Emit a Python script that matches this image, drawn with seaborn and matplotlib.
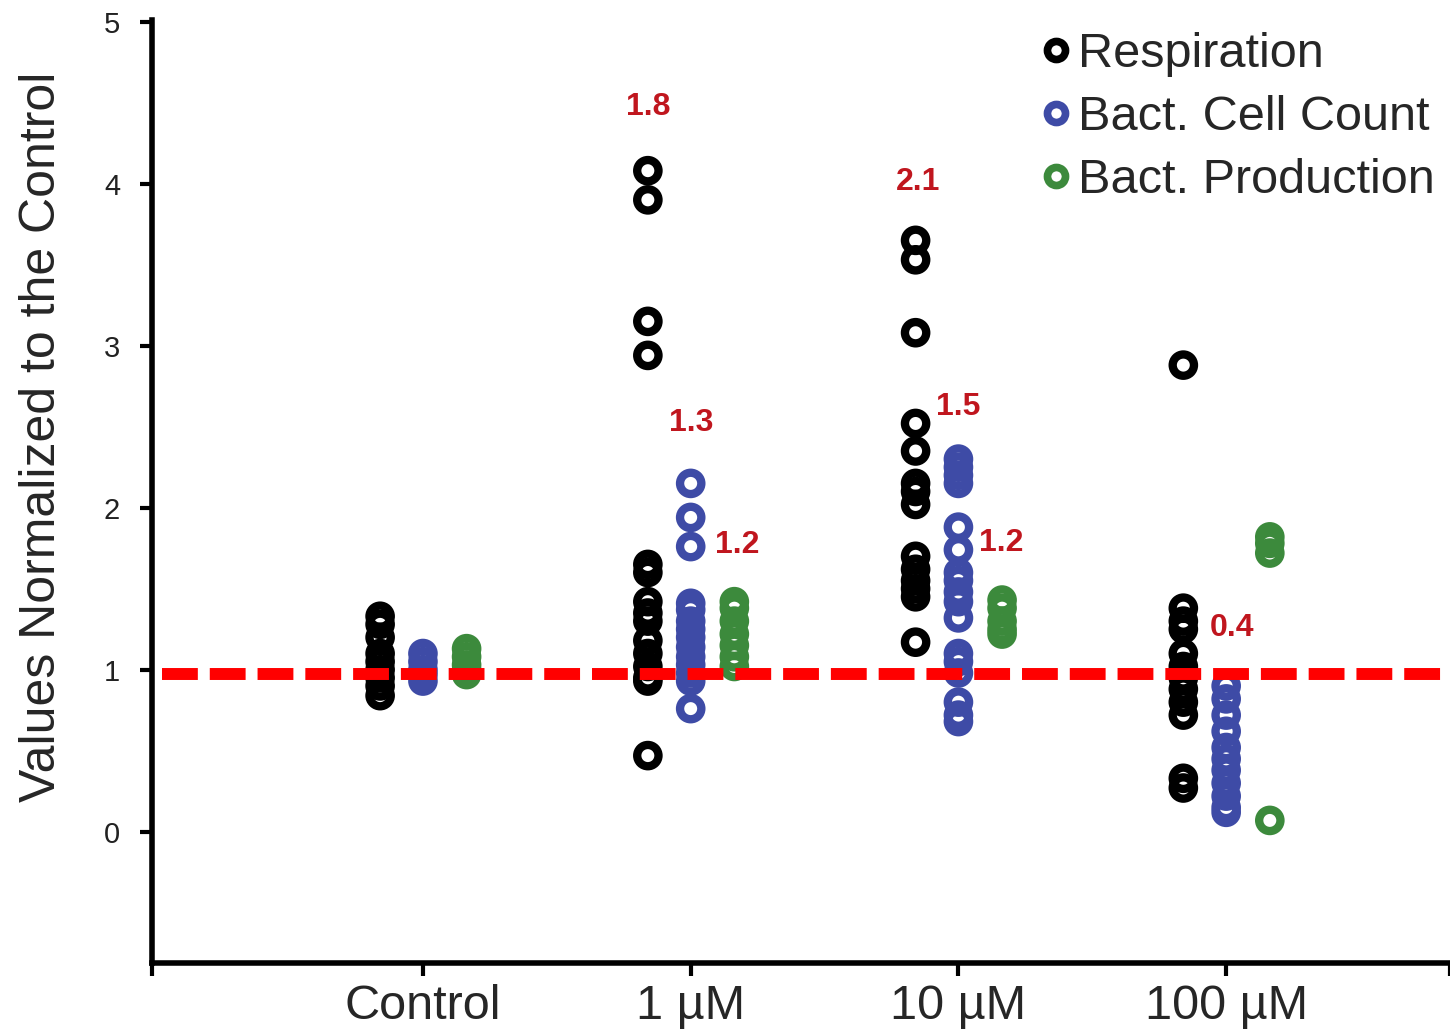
import matplotlib
matplotlib.use("Agg")
import matplotlib.pyplot as plt
from matplotlib.lines import Line2D
import numpy as np
import pandas as pd
import seaborn as sns

sns.set_theme(style="white")
plt.rcParams["font.family"] = ["Liberation Sans", "DejaVu Sans"]

groups = ["Control", "1 µM", "10 µM", "100 µM"]
series = ["Respiration", "Bact. Cell Count", "Bact. Production"]
colors = ["#000000", "#3e4ba6", "#3c8a3c"]

# values, one list per group
resp = [
    [1.33, 1.28, 1.2, 1.1, 1.05, 1.0, 0.95, 0.9, 0.84],
    [4.08, 3.9, 3.15, 2.94, 1.65, 1.6, 1.42, 1.35, 1.3, 1.18, 1.1, 1.02, 0.95, 0.93, 0.47],
    [3.65, 3.53, 3.08, 2.52, 2.35, 2.15, 2.1, 2.02, 1.7, 1.62, 1.55, 1.5, 1.45, 1.17],
    [2.88, 1.38, 1.3, 1.25, 1.1, 1.02, 0.95, 0.88, 0.8, 0.72, 0.33, 0.27],
]
cells = [
    [1.1, 1.05, 1.0, 0.97, 0.93],
    [2.15, 1.94, 1.76, 1.41, 1.37, 1.3, 1.25, 1.2, 1.14, 1.08, 1.03, 0.98, 0.93, 0.76],
    [2.3, 2.25, 2.2, 2.15, 1.88, 1.74, 1.6, 1.55, 1.48, 1.42, 1.32, 1.1, 1.05, 0.98, 0.8, 0.72, 0.68],
    [0.9, 0.82, 0.72, 0.62, 0.52, 0.45, 0.38, 0.3, 0.22, 0.15, 0.12],
]
prod = [
    [1.13, 1.08, 1.03, 1.0, 0.97],
    [1.42, 1.38, 1.3, 1.22, 1.15, 1.08, 1.02],
    [1.43, 1.38, 1.3, 1.25, 1.22],
    [1.82, 1.78, 1.72, 0.07],
]

# red ratio labels: text, group index, nearby series offset, y value
ann_text = ["1.8", "1.3", "1.2", "2.1", "1.5", "1.2", "0.4"]
ann_group = [1, 1, 1, 2, 2, 2, 3]
ann_dx = [-0.16, 0.0, 0.175, -0.15, 0.0, 0.16, 0.02]
ann_y = [4.47, 2.52, 1.77, 4.01, 2.62, 1.78, 1.26]

offsets = [-0.16, 0.0, 0.163]

rows = []
for s_idx, data in enumerate([resp, cells, prod]):
    for g_idx, vals in enumerate(data):
        for v in vals:
            rows.append({"series": series[s_idx], "pos": g_idx + offsets[s_idx], "value": v})
df = pd.DataFrame(rows)

W, H = 1450, 1035
fig = plt.figure(figsize=(W / 100, H / 100), dpi=100)
ax = fig.add_axes([152 / W, 1 - 963 / H, (W - 152) / W, (963 - 20) / H])

for s_name, col in zip(series, colors):
    sub = df[df["series"] == s_name]
    sns.scatterplot(data=sub, x="pos", y="value", ax=ax, color=col,
                    facecolor="none", edgecolor=col, s=235, linewidth=6,
                    legend=False, zorder=3)

ax.axhline(0.975, xmin=0.008, xmax=1.0, color="#ff0000", linewidth=8.6,
           dashes=(3, 1), zorder=4)

for t, g, dx, y in zip(ann_text, ann_group, ann_dx, ann_y):
    ax.text(g + dx, y, t, color="#c0161e", fontsize=23, fontweight="bold",
            ha="center", va="center", zorder=5)

ax.set_xlim(-1.012, 3.836)
ax.set_ylim(-0.81, 5.01)
ax.set_xticks(range(len(groups)))
ax.set_xticklabels(groups, fontsize=35)
ax.set_xticks([-1.012, 3.836], minor=True)
ax.set_yticks(range(0, 6))
ax.set_yticklabels([str(i) for i in range(0, 6)], fontsize=21, color="#222222")
ax.set_xlabel("")
ax.set_ylabel("Values Normalized to the Control", fontsize=36)
ax.yaxis.set_label_coords(-0.067, 0.558)

for side in ["top", "right"]:
    ax.spines[side].set_visible(False)
for side in ["left", "bottom"]:
    ax.spines[side].set_linewidth(4)
    ax.spines[side].set_color("black")
ax.tick_params(axis="both", which="both", direction="out", length=9, width=3,
               color="black", bottom=True, left=True)
ax.tick_params(axis="y", pad=14)
ax.tick_params(axis="x", pad=6)

handles = [Line2D([], [], marker="o", linestyle="", markerfacecolor="none",
                  markeredgecolor=c, markersize=13, markeredgewidth=5.5)
           for c in colors]
leg = ax.legend(handles, series, loc="upper right", bbox_to_anchor=(1.011, 1.018),
                frameon=False, fontsize=35, handlelength=0.5, handletextpad=0.2,
                labelspacing=0.37, borderpad=0.1)

fig.savefig("out.png", dpi=100)
